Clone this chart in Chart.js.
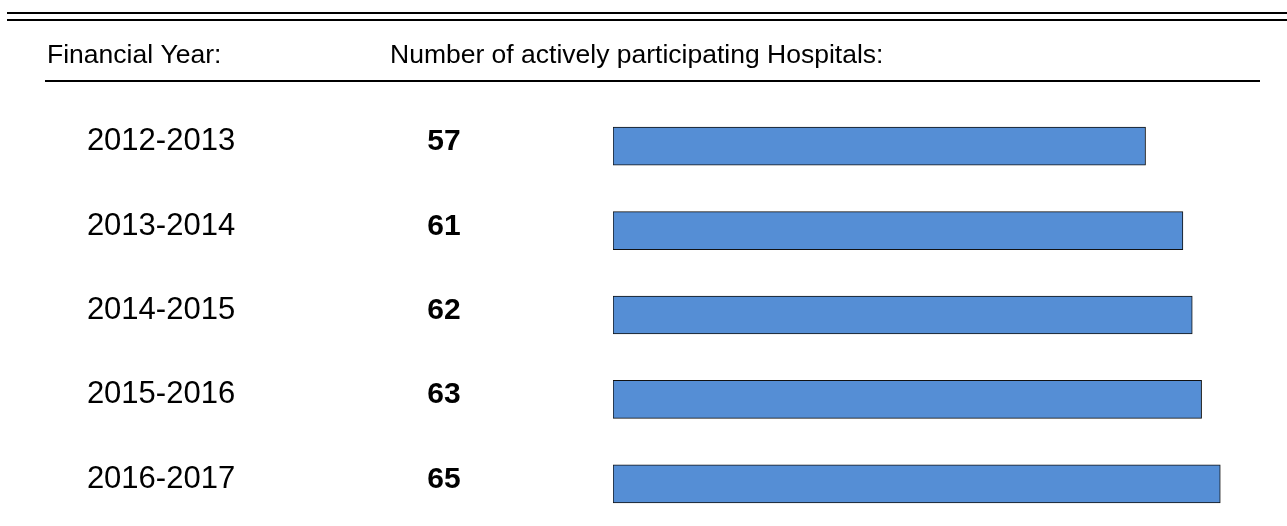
<!DOCTYPE html>
<html>
<head>
<meta charset="utf-8">
<style>
  html, body { margin: 0; padding: 0; background: #fff; }
  #chart { display: block; }
</style>
<script src="https://cdn.jsdelivr.net/npm/chart.js@4"></script>
</head>
<body>
<canvas id="chart" width="1287" height="526"></canvas>
<script>
const years = ['2012-2013', '2013-2014', '2014-2015', '2015-2016', '2016-2017'];
const hospitals = [57, 61, 62, 63, 65];
const headers = ['Financial Year:', 'Number of actively participating Hospitals:'];

const FONT = '"Liberation Sans", Arial, sans-serif';

// ----- rules + column headers -----
const tableFrame = {
    id: 'tableFrame',
    beforeDraw(chart) {
        const { ctx, width } = chart;
        ctx.save();
        ctx.fillStyle = '#000';
        ctx.fillRect(7, 12, width - 7, 2);
        ctx.fillRect(7, 19, width - 7, 2);
        ctx.fillRect(45, 80, 1215, 2);
        ctx.font = '26.5px ' + FONT;
        ctx.textBaseline = 'alphabetic';
        ctx.textAlign = 'left';
        ctx.fillText(headers[0], 47, 63);
        ctx.fillText(headers[1], 390, 63);
        ctx.restore();
    }
};

// ----- year + value columns, aligned to bar rows -----
const rowText = {
    id: 'rowText',
    afterDraw(chart) {
        const { ctx } = chart;
        const y = chart.scales.y;
        ctx.save();
        ctx.fillStyle = '#000';
        ctx.textAlign = 'center';
        ctx.textBaseline = 'alphabetic';
        years.forEach((yr, i) => {
            const cy = y.getPixelForValue(i) + 4;
            ctx.font = '31px ' + FONT;
            ctx.fillText(yr, 161, cy);
            ctx.font = 'bold 30px ' + FONT;
            ctx.fillText(String(hospitals[i]), 444, cy);
        });
        ctx.restore();
    }
};

new Chart(document.getElementById('chart'), {
    type: 'bar',
    data: {
        labels: years,
        datasets: [{
            data: hospitals,
            backgroundColor: '#558ED5',
            borderColor: '#111',
            borderWidth: 1,
            borderSkipped: false,
            barThickness: 38
        }]
    },
    options: {
        indexAxis: 'y',
        responsive: false,
        animation: false,
        layout: { padding: { left: 613, right: 20, top: 104, bottom: 0 } },
        scales: {
            x: { display: false, min: 0, max: 70 },
            y: { display: false }
        },
        plugins: { legend: { display: false }, tooltip: { enabled: false } }
    },
    plugins: [tableFrame, rowText]
});
</script>
</body>
</html>
